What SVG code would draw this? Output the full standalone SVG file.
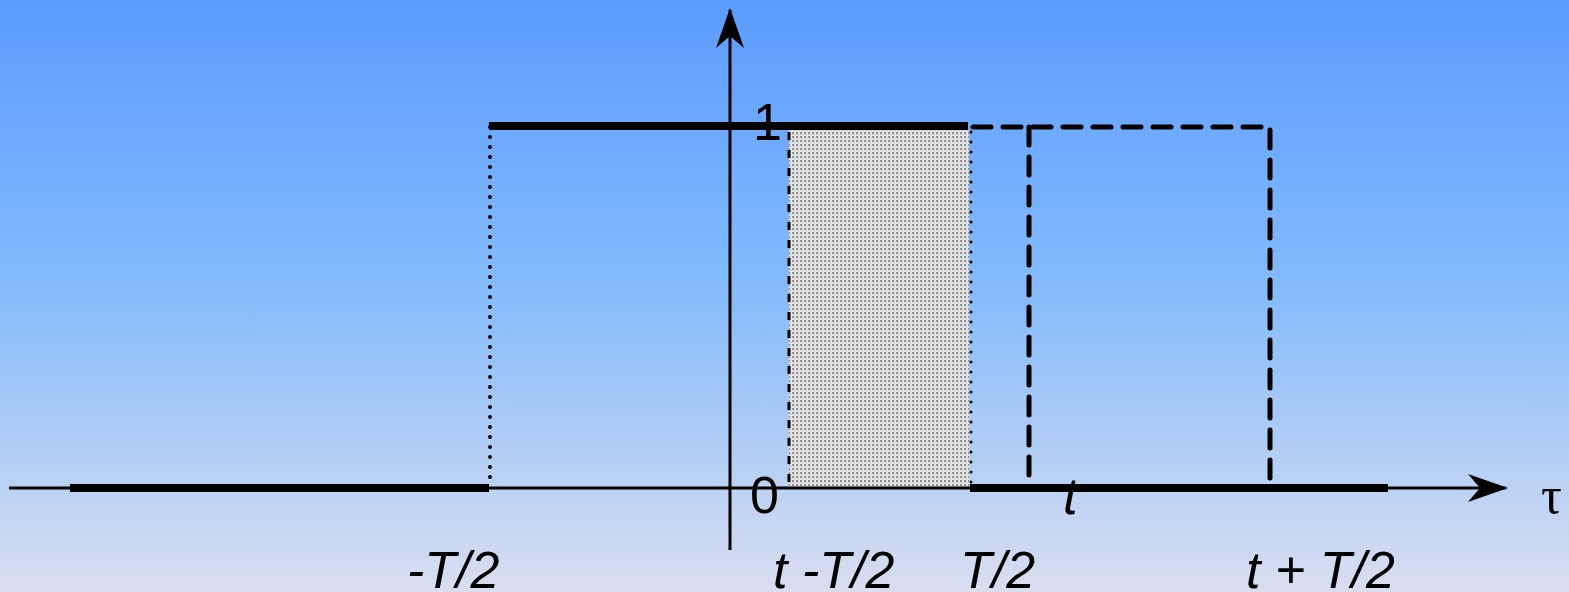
<svg xmlns="http://www.w3.org/2000/svg" width="1569" height="592" viewBox="0 0 1569 592">
<defs>
<linearGradient id="bg" x1="0" y1="0" x2="0" y2="1">
<stop offset="0" stop-color="#5a9bff"/>
<stop offset="0.5" stop-color="#86bcfb"/>
<stop offset="1" stop-color="#d9def0"/>
</linearGradient>
<pattern id="dots" width="4" height="4" patternUnits="userSpaceOnUse">
<rect width="4" height="4" fill="#e6e6e6"/>
<rect x="0" y="0" width="2" height="2" fill="#8c8c8c"/>
<rect x="2" y="2" width="1" height="1" fill="#b4b4b4"/>
</pattern>
<marker id="arr" viewBox="0 0 40 28" refX="38" refY="14" markerWidth="40" markerHeight="28" markerUnits="userSpaceOnUse" orient="auto">
<path d="M0,0 L40,14 L0,28 L12,14 Z" fill="#000"/>
</marker>
<style>
.lbl{font-family:"Liberation Sans",Arial,sans-serif;font-size:52px;fill:#000}
.it{font-style:italic}
.thick{stroke:#000;stroke-width:8;fill:none}
.thin{stroke:#000;stroke-width:3;fill:none}
.dash{stroke:#000;stroke-width:5;stroke-dasharray:18 12;stroke-linecap:round;fill:none}
.dot{stroke:#000;stroke-width:4;stroke-dasharray:0 10;stroke-linecap:round;fill:none}
</style>
</defs>
<rect width="1569" height="592" fill="url(#bg)"/>
<g id="shaded">
<rect x="789" y="130" width="180" height="358" fill="url(#dots)"/>
<line x1="789" y1="132" x2="789" y2="486" style="stroke:#000;stroke-width:3;stroke-dasharray:8 10;fill:none"/>
<line class="dot" x1="971" y1="132" x2="971" y2="486" style="stroke-width:3"/>
</g>
<g id="connectors">
<line class="thin" x1="9" y1="488" x2="1506" y2="488" marker-end="url(#arr)"/>
<line class="thin" x1="730" y1="550" x2="730" y2="10" marker-end="url(#arr)"/>
<line class="thick" x1="70" y1="488" x2="489" y2="488"/>
<line class="thick" x1="489" y1="126" x2="968" y2="126"/>
<line class="thick" x1="970" y1="488" x2="1388" y2="488"/>
<line class="dot" x1="490" y1="127" x2="490" y2="487"/>
<path class="dash" d="M973,127 H1270 V488"/>
<line class="dash" x1="1029" y1="127" x2="1029" y2="488"/>
</g>
<g id="labels">
<text class="lbl" x="753" y="140">1</text>
<text class="lbl" x="750" y="513">0</text>
<text class="lbl it" x="1063" y="514">t</text>
<text class="lbl" x="1541" y="513" style="font-family:'Liberation Serif',serif">τ</text>
<text class="lbl it" x="407" y="588">-T/2</text>
<text class="lbl it" x="773" y="588">t -T/2</text>
<text class="lbl it" x="960" y="588">T/2</text>
<text class="lbl it" x="1246" y="588">t + T/2</text>
</g>
</svg>
